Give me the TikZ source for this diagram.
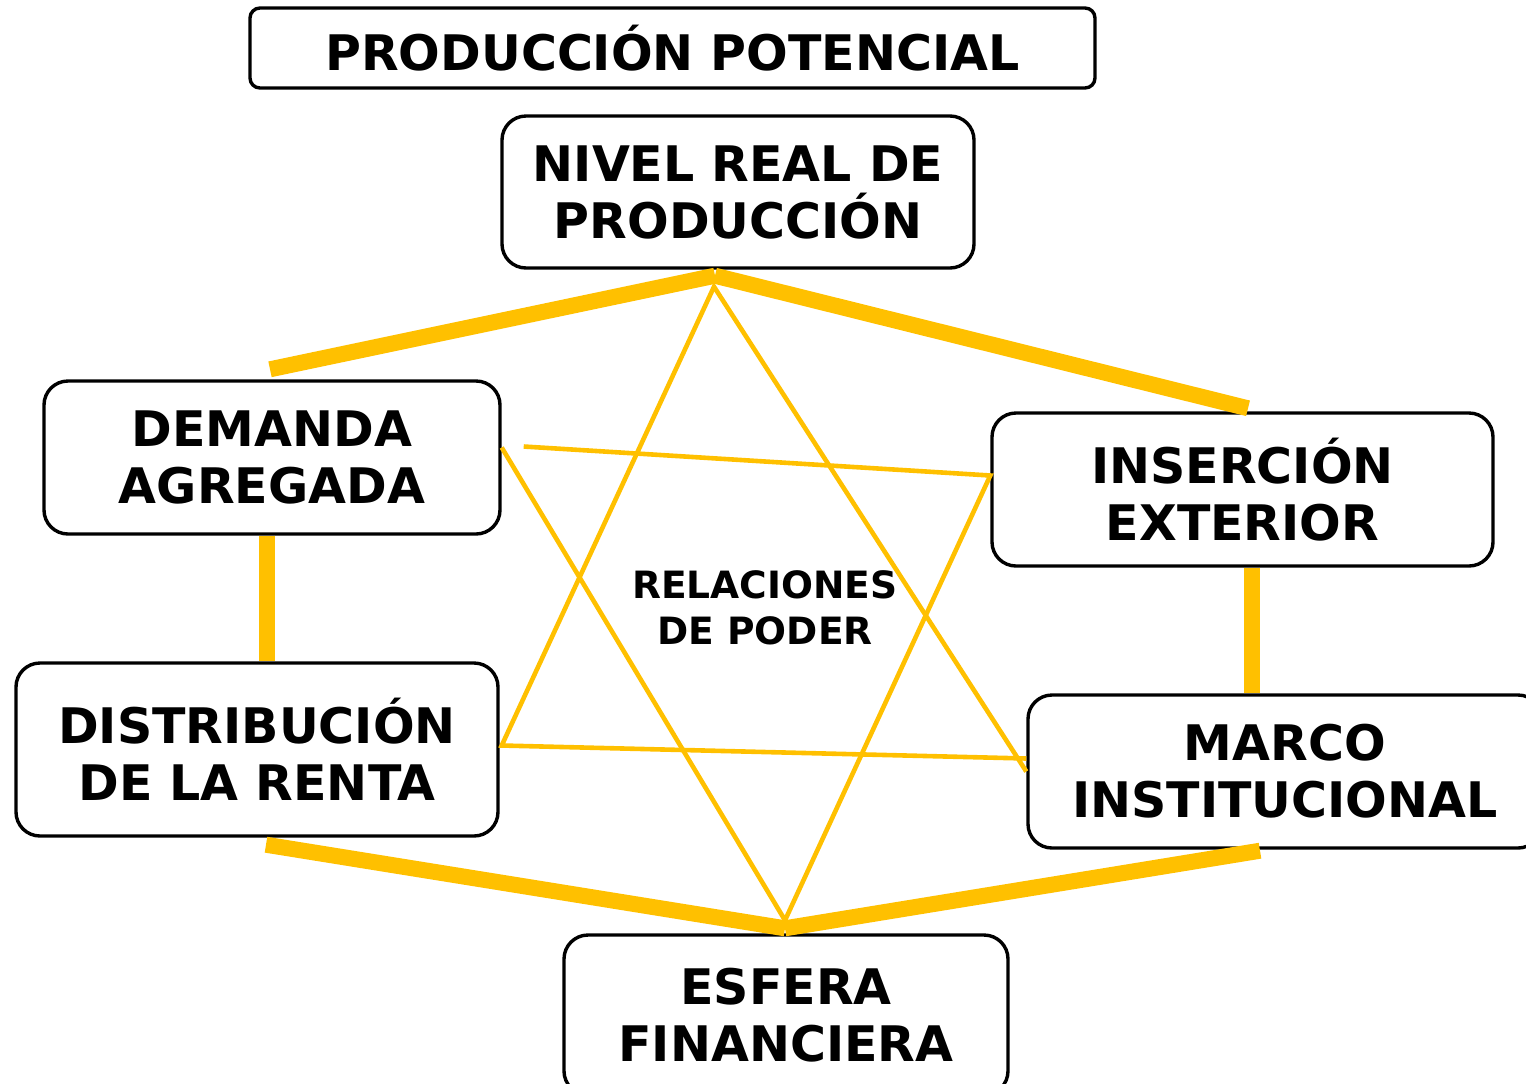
\documentclass[tikz,border=0pt]{standalone}
\usepackage{fontspec}
\setmainfont{DejaVu Sans}
\usetikzlibrary{calc,positioning}
\definecolor{gold}{HTML}{FFC000}

\begin{document}
\begin{tikzpicture}[x=0.5pt, y=-0.5pt,
  every node/.style={font=\bfseries\fontsize{24.5}{28.5}\selectfont, align=center},
  box/.style={draw, line width=1.7pt, rounded corners=12pt, inner sep=0pt},
  thickline/.style={gold, line width=8pt},
  thinline/.style={gold, line width=2.3pt}]
  % Define dimensions
  \useasboundingbox (0,0) rectangle (1526,1083);

  % Draw boxes
  \node[box, rounded corners=5pt, minimum width=422.5pt, minimum height=40pt] (potencial) at (672.5,48) {PRODUCCIÓN POTENCIAL};
  \node[box, minimum width=236pt, minimum height=76pt] (nivel) at (738,192) {NIVEL REAL DE\\PRODUCCIÓN};
  \node[box, minimum width=228pt, minimum height=76.5pt] (demanda) at (272,457.5) {DEMANDA\\AGREGADA};
  \node[box, minimum width=250.5pt, minimum height=76.5pt] (insercion) at (1242.5,489.5) {INSERCIÓN\\EXTERIOR};
  \node[box, minimum width=241pt, minimum height=86.5pt] (distrib) at (257,749.5) {DISTRIBUCIÓN\\DE LA RENTA};
  \node[box, minimum width=257pt, minimum height=76.5pt] (marco) at (1285,771.5) {MARCO\\INSTITUCIONAL};
  \node[box, minimum width=222pt, minimum height=80pt] (esfera) at (786,1015) {ESFERA\\FINANCIERA};
  \node[font=\bfseries\fontsize{18.8}{23}\selectfont] (poder) at (765,608) {RELACIONES\\DE PODER};

  % Define points
  \coordinate (nivelA) at ($(nivel.south)+(-23,6)$);
  \coordinate (nivelB) at ($(nivel.south)+(-24,17)$);
  \coordinate (esferaA) at ($(esfera.north)+(-1,-5)$);
  \coordinate (esferaB) at ($(esfera.north)+(-1,-13)$);

  % Thick links
  \draw[thickline] ($(demanda.north)+(-2,-10)$) -- (nivelA);
  \draw[thickline] (nivelA) -- ($(insercion.north)+(5.5,-3)$);
  \draw[thickline] ($(distrib.south)+(9,7)$) -- (esferaA);
  \draw[thickline] (esferaA) -- ($(marco.south)+(-25,1)$);
  \draw[thickline] ([xshift=-2.5pt]demanda.south) -- ([xshift=-2.5pt]demanda.south |- distrib.north);
  \draw[thickline] ([xshift=4.75pt]insercion.south) -- ([xshift=4.75pt]insercion.south |- marco.north);

  % Thin triangles
  \draw[thinline] (marco.west) -- (nivelB) -- ($(distrib.east)+(2,-4)$) -- ($(marco.west)+(0,-13)$);
  \draw[thinline] ($(demanda.east)+(0,-10)$) -- (esferaB) -- ($(insercion.west)+(0,-14)$) -- ($(demanda.east)+(22,-11)$);
\end{tikzpicture}
\end{document}
